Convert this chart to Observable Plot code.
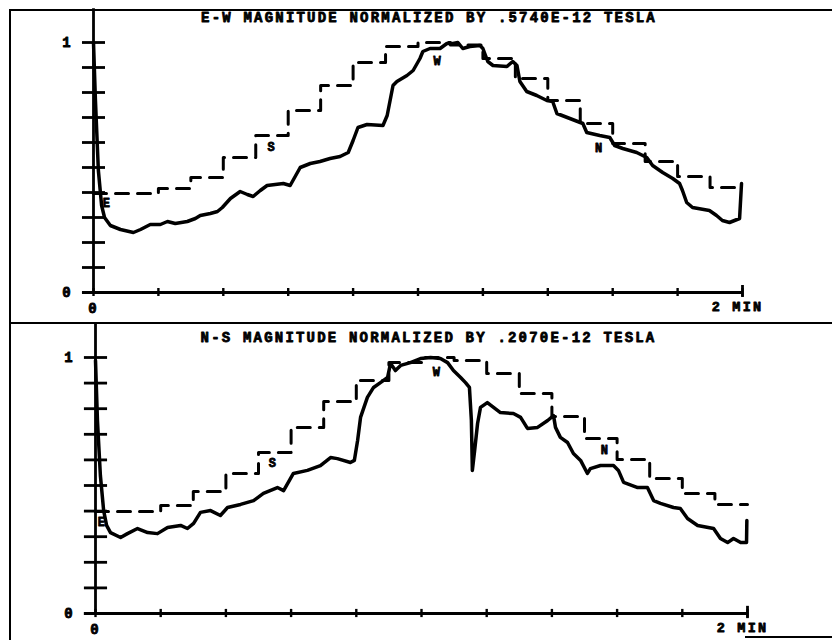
<!DOCTYPE html>
<html>
<head>
<meta charset="utf-8">
<script src="https://cdn.jsdelivr.net/npm/d3@7"></script>
<script src="https://cdn.jsdelivr.net/npm/@observablehq/plot@0.6"></script>
<style>
  html, body { margin: 0; padding: 0; background: #fff; }
  #wrap { position: relative; width: 832px; height: 640px; background: #fff; overflow: hidden; }
  .panel { position: absolute; left: 0; }
  .bd { position: absolute; background: #000; z-index: 5; }
  svg text { font-family: "Liberation Mono", "DejaVu Sans Mono", monospace; font-weight: bold; }
</style>
</head>
<body>
<div id="wrap">
  <div id="top" class="panel" style="top:0"></div>
  <div id="bot" class="panel" style="top:323px"></div>
  <div class="bd" style="left:9px;top:9px;width:2px;height:631px"></div>
  <div class="bd" style="left:9px;top:9px;width:823px;height:2px"></div>
  <div class="bd" style="left:9px;top:322px;width:823px;height:2px"></div>
  <div class="bd" style="left:745px;top:636px;width:87px;height:2px"></div>
</div>
<script>
// ---- axis ticks (minutes, normalized magnitude) ----
const xTicks = [0, 0.2, 0.4, 0.6, 0.8, 1.0, 1.2, 1.4, 1.6, 1.8, 2.0];
const yTicks = [0, 0.1, 0.2, 0.3, 0.4, 0.5, 0.6, 0.7, 0.8, 0.9, 1.0];
const yLabels = [0, 1];
const stepStart = [0, 0.1, 0.2, 0.3, 0.4, 0.5, 0.6, 0.7, 0.8, 0.9, 1.0, 1.1, 1.2, 1.3, 1.4, 1.5, 1.6, 1.7, 1.8, 1.9];
const stepEnd = 2.0;

// ---- E-W panel ----
const ewTitle = "E-W MAGNITUDE NORMALIZED BY .5740E-12 TESLA";
const ewTime = [0, 0.006, 0.015, 0.025, 0.034, 0.052, 0.083, 0.123, 0.145, 0.175, 0.206, 0.228, 0.252, 0.289, 0.314, 0.329, 0.36, 0.382, 0.397, 0.422, 0.452, 0.474, 0.492, 0.514, 0.535, 0.56, 0.585, 0.606, 0.637, 0.668, 0.698, 0.729, 0.76, 0.785, 0.8, 0.815, 0.843, 0.892, 0.905, 0.923, 0.935, 0.966, 0.985, 1.006, 1.015, 1.037, 1.068, 1.089, 1.108, 1.123, 1.138, 1.16, 1.191, 1.2, 1.215, 1.231, 1.274, 1.292, 1.305, 1.314, 1.335, 1.366, 1.397, 1.415, 1.428, 1.468, 1.508, 1.52, 1.56, 1.591, 1.606, 1.631, 1.674, 1.705, 1.723, 1.754, 1.785, 1.806, 1.815, 1.828, 1.846, 1.898, 1.92, 1.938, 1.96, 1.991, 1.997];
const ewMag = [1.0, 0.768, 0.488, 0.348, 0.30, 0.268, 0.252, 0.24, 0.252, 0.272, 0.272, 0.284, 0.276, 0.284, 0.296, 0.308, 0.316, 0.324, 0.34, 0.376, 0.404, 0.392, 0.384, 0.408, 0.428, 0.432, 0.436, 0.428, 0.5, 0.516, 0.524, 0.536, 0.544, 0.56, 0.608, 0.66, 0.672, 0.668, 0.708, 0.828, 0.844, 0.868, 0.888, 0.936, 0.964, 0.976, 0.976, 0.996, 0.996, 1.0, 0.976, 0.984, 0.988, 0.976, 0.924, 0.908, 0.904, 0.924, 0.908, 0.844, 0.804, 0.788, 0.768, 0.764, 0.716, 0.696, 0.676, 0.64, 0.628, 0.62, 0.588, 0.576, 0.56, 0.54, 0.508, 0.48, 0.456, 0.436, 0.408, 0.36, 0.34, 0.328, 0.308, 0.288, 0.28, 0.296, 0.436];
const ewStep = [0.396, 0.396, 0.416, 0.46, 0.54, 0.628, 0.728, 0.828, 0.92, 0.984, 1.0, 0.99, 0.936, 0.856, 0.768, 0.676, 0.596, 0.524, 0.464, 0.42];
const ewLetters = ["E", "S", "W", "N"];
const ewLetterT = [0.043, 0.551, 1.062, 1.56];
const ewLetterV = [0.356, 0.58, 0.924, 0.576];

// ---- N-S panel ----
const nsTitle = "N-S MAGNITUDE NORMALIZED BY .2070E-12 TESLA";
const nsTime = [0, 0.006, 0.015, 0.025, 0.034, 0.046, 0.077, 0.098, 0.129, 0.16, 0.19, 0.221, 0.261, 0.282, 0.301, 0.322, 0.353, 0.383, 0.405, 0.445, 0.485, 0.515, 0.558, 0.577, 0.607, 0.65, 0.69, 0.721, 0.742, 0.782, 0.794, 0.804, 0.813, 0.834, 0.853, 0.874, 0.896, 0.905, 0.92, 0.936, 0.966, 0.997, 1.028, 1.058, 1.08, 1.098, 1.12, 1.135, 1.147, 1.153, 1.156, 1.163, 1.172, 1.181, 1.202, 1.242, 1.282, 1.304, 1.325, 1.356, 1.387, 1.405, 1.411, 1.426, 1.448, 1.466, 1.488, 1.509, 1.518, 1.549, 1.589, 1.604, 1.62, 1.663, 1.693, 1.712, 1.733, 1.773, 1.794, 1.816, 1.847, 1.896, 1.917, 1.939, 1.957, 1.979, 1.997, 1.998];
const nsMag = [0.988, 0.754, 0.539, 0.402, 0.344, 0.316, 0.297, 0.312, 0.332, 0.316, 0.312, 0.336, 0.344, 0.332, 0.352, 0.395, 0.402, 0.383, 0.414, 0.426, 0.441, 0.469, 0.492, 0.48, 0.547, 0.559, 0.578, 0.609, 0.605, 0.59, 0.598, 0.676, 0.766, 0.844, 0.883, 0.902, 0.922, 0.977, 0.949, 0.969, 0.98, 0.996, 1.0, 0.996, 0.98, 0.949, 0.922, 0.902, 0.883, 0.754, 0.559, 0.637, 0.742, 0.805, 0.824, 0.785, 0.781, 0.766, 0.723, 0.727, 0.754, 0.773, 0.727, 0.688, 0.668, 0.625, 0.598, 0.547, 0.566, 0.578, 0.578, 0.559, 0.512, 0.492, 0.492, 0.441, 0.43, 0.414, 0.41, 0.371, 0.344, 0.332, 0.293, 0.277, 0.293, 0.277, 0.277, 0.363];
const nsStep = [0.398, 0.398, 0.422, 0.477, 0.547, 0.629, 0.727, 0.828, 0.91, 0.98, 1.0, 0.988, 0.9375, 0.859, 0.77, 0.684, 0.602, 0.527, 0.469, 0.426];
const nsLetters = ["E", "S", "W", "N"];
const nsLetterT = [0.021, 0.546, 1.049, 1.564];
const nsLetterV = [0.355, 0.586, 0.941, 0.637];

function panel({title, time, mag, step, letters, letterT, letterV, height, mL, mR, mT, mB, titleDx, titleDy}) {
  const solid = time.map((t, i) => ({t, v: mag[i]}));
  const stairs = stepStart.map((t, i) => ({t, v: step[i]}));
  stairs.push({t: stepEnd, v: step[step.length - 1]});
  const lbl = letters.map((s, i) => ({s, t: letterT[i], v: letterV[i]}));
  const ink = "#000";
  const txt = {fill: ink, stroke: ink, strokeWidth: 0.8};
  return Plot.plot({
    width: 832, height,
    marginLeft: mL, marginRight: mR, marginTop: mT, marginBottom: mB,
    x: {domain: [0, 2], axis: null},
    y: {domain: [0, 1], axis: null},
    style: {background: "transparent", letterSpacing: "2.2px"},
    marks: [
      // axes
      Plot.ruleX([0], {y1: 0, y2: 1.135, stroke: ink, strokeWidth: 2.8}),
      Plot.ruleY(yTicks, {x1: -0.034, x2: 0.037, stroke: ink, strokeWidth: 2.8}),
      Plot.ruleY([0], {x1: -0.034, x2: 2, stroke: ink, strokeWidth: 2.8}),
      Plot.ruleX(xTicks, {y1: -0.016, y2: 0.016, stroke: ink, strokeWidth: 2.4}),
      Plot.ruleX([2], {y1: -0.02, y2: 0.028, stroke: ink, strokeWidth: 2.8}),
      Plot.text(yLabels, {x: 0, y: d => d, dx: -26, text: d => String(d), fontSize: 14, textAnchor: "middle", ...txt}),
      Plot.text([0], {x: d => d, y: 0, dy: 16, text: d => String(d), fontSize: 14, ...txt}),
      Plot.text(["2 MIN"], {x: 2, y: 0, dy: 14, dx: -5, text: d => d, fontSize: 13.5, ...txt}),
      // title
      Plot.text([title], {frameAnchor: "top", dx: titleDx, dy: titleDy, text: d => d, fontSize: 14, lineAnchor: "middle", ...txt}),
      // data
      Plot.line(stairs, {x: "t", y: "v", curve: "step-after", stroke: ink, strokeWidth: 3, strokeDasharray: "13,9"}),
      Plot.line(solid, {x: "t", y: "v", stroke: ink, strokeWidth: 3.5, strokeLinejoin: "round", strokeLinecap: "round"}),
      Plot.text(lbl, {x: "t", y: "v", text: "s", fontSize: 12, ...txt})
    ]
  });
}

document.getElementById("top").append(panel({
  title: ewTitle, time: ewTime, mag: ewMag, step: ewStep,
  letters: ewLetters, letterT: ewLetterT, letterV: ewLetterV,
  height: 323, mL: 93, mR: 90, mT: 42, mB: 31, titleDx: 11, titleDy: -25
}));
document.getElementById("bot").append(panel({
  title: nsTitle, time: nsTime, mag: nsMag, step: nsStep,
  letters: nsLetters, letterT: nsLetterT, letterV: nsLetterV,
  height: 317, mL: 95, mR: 85, mT: 34, mB: 27, titleDx: 7, titleDy: -20
}));
</script>
</body>
</html>
